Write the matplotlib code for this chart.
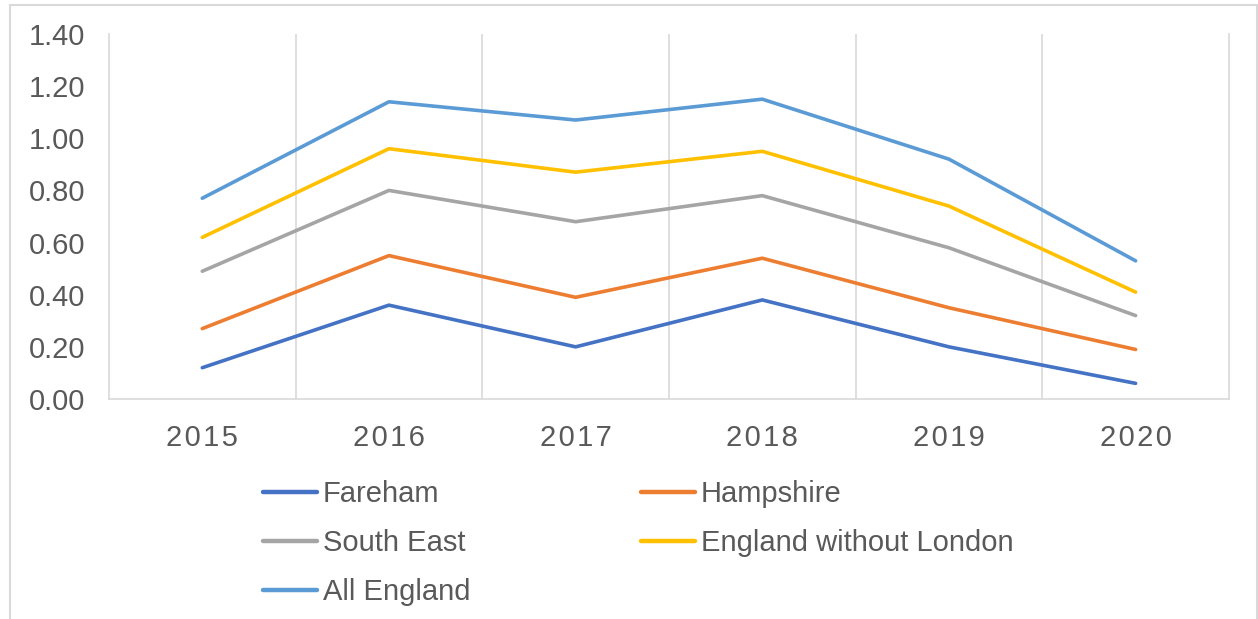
import numpy as np
import matplotlib
matplotlib.use("Agg")
import matplotlib.pyplot as plt
from matplotlib.patches import Rectangle

years = ['2015', '2016', '2017', '2018', '2019', '2020']
fareham = [0.12, 0.36, 0.20, 0.38, 0.20, 0.06]
hampshire = [0.27, 0.55, 0.39, 0.54, 0.35, 0.19]
south_east = [0.49, 0.80, 0.68, 0.78, 0.58, 0.32]
england_wo_london = [0.62, 0.96, 0.87, 0.95, 0.74, 0.41]
all_england = [0.77, 1.14, 1.07, 1.15, 0.92, 0.53]

series = [
    ('Fareham', fareham, '#4472C4'),
    ('Hampshire', hampshire, '#ED7D31'),
    ('South East', south_east, '#A5A5A5'),
    ('England without London', england_wo_london, '#FFC000'),
    ('All England', all_england, '#5B9BD5'),
]

plt.rcParams['font.family'] = ['Liberation Sans', 'DejaVu Sans']
text_col = '#595959'
grid_col = '#d9d9d9'

fig = plt.figure(figsize=(12.58, 6.19), dpi=100)
ax = fig.add_axes([0.0866, 0.3554, 0.8903, 0.5897])

x = np.arange(len(years))
lines = []
for name, vals, col in series:
    ln, = ax.plot(x, vals, color=col, linewidth=2.6, label=name, solid_capstyle='round')
    lines.append(ln)

ax.set_xlim(-0.5, len(years) - 0.5)
ax.set_ylim(0, 1.40)
ax.set_yticks(np.arange(0, 1.41, 0.2))
ax.set_yticklabels([f'{v:.2f}' for v in np.arange(0, 1.41, 0.2)])
ax.set_xticks(x)
# Excel spaces the year digits out a little
ax.set_xticklabels(['\u200a'.join(y) for y in years])

# vertical gridlines at category boundaries
ax.set_xticks(np.arange(0.5, len(years) - 0.5, 1), minor=True)
ax.grid(True, which='minor', axis='x', color=grid_col, linewidth=1.2)
ax.tick_params(which='minor', length=0)
ax.tick_params(axis='x', which='major', length=0, labelsize=21, labelcolor=text_col, pad=18)
ax.tick_params(axis='y', length=0, labelsize=21, labelcolor=text_col, pad=17)

ax.spines['top'].set_visible(False)
for s in ['left', 'right', 'bottom']:
    ax.spines[s].set_color(grid_col)
    ax.spines[s].set_linewidth(1.2)

# outer chart border
fig.patches.append(Rectangle((10 / 1258, -0.01), 1247 / 1258, 1.01 - 5 / 619,
                             transform=fig.transFigure, fill=False,
                             edgecolor=grid_col, linewidth=1.5))

# legend filled row by row like Excel: reorder for matplotlib's column-major fill
order = [0, 2, 4, 1, 3]
leg = fig.legend([lines[i] for i in order], [series[i][0] for i in order],
                 loc='upper left', bbox_to_anchor=(0.209, 0.225), ncol=2,
                 frameon=False, fontsize=21, handlelength=1.85,
                 handletextpad=0.2, columnspacing=5.85, labelspacing=0.72,
                 borderaxespad=0, borderpad=0)
for t in leg.get_texts():
    t.set_color(text_col)
for h in leg.get_lines():
    h.set_linewidth(3.2)

fig.savefig('out.png', dpi=100)
